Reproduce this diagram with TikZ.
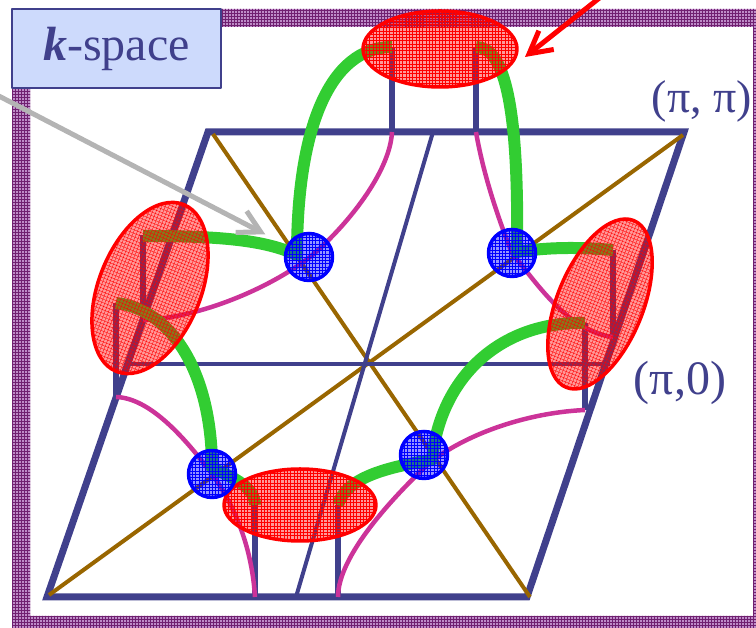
\documentclass[tikz,border=0pt]{standalone}
\usepackage{fontspec}
\setmainfont{Liberation Serif}
\usetikzlibrary{patterns,arrows.meta}
\definecolor{bznavy}{RGB}{64,64,140}
\definecolor{fsgreen}{RGB}{50,205,50}
\definecolor{fspink}{RGB}{204,51,153}
\definecolor{diagbrown}{RGB}{153,102,0}
\definecolor{framepurple}{RGB}{190,140,200}
\definecolor{framegrid}{RGB}{112,32,112}
\definecolor{boxblue}{RGB}{205,218,252}
\definecolor{arrowgray}{RGB}{180,180,180}
\begin{document}
\begin{tikzpicture}[x=1pt,y=1pt,line join=round,
    edge/.style={bznavy,line width=7pt,line join=miter},
    stub/.style={bznavy,line width=6pt},
    fsline/.style={fspink,line width=4.5pt},
    gapline/.style={fsgreen,line width=12pt},
    meshed/.style={path picture={\draw[#1,line width=0.35pt,step=3.3]
      ([shift={(-110,-110)}]path picture bounding box.center) grid
      ([shift={(110,110)}]path picture bounding box.center);}},
    hotspot/.style={draw=red,line width=3.5pt,fill=red,fill opacity=0.4,
      meshed=red},
    dirac/.style={circle,draw=blue,line width=3.5pt,fill=blue,fill opacity=0.42,
      minimum size=47pt,inner sep=0pt,meshed=blue},
    pointer/.style={line width=5pt,-{Straight Barb[length=22pt,width=24pt]}}]
  \useasboundingbox (0,0) rectangle (756,628);
  \clip (0,0) rectangle (756,628);
  % slide frame
  \fill[framepurple,even odd rule,
    postaction={pattern=grid,pattern color=framegrid,even odd rule}]
    (12,-12) rectangle (775,619) (30,12) rectangle (753,601);
  % zone
  \draw[edge] (47,31) -- (527,31) -- (684,496) -- (208,496) -- cycle;
  \draw[diagbrown,line width=4pt] (49,33) -- (683,493);
  \draw[diagbrown,line width=4pt] (213,494) -- (530,31);
  \draw[bznavy,line width=4pt] (127,264) -- (610,264);
  \draw[bznavy,line width=4pt] (296,31) -- (433,496);
  \foreach \x/\ya/\yb in {392/496/581,476/496/581,255/31/123,338/31/123,
      143/308/393,116/231/325,613/291/378,585/218/305}
    \draw[stub] (\x,\ya) -- (\x,\yb);
  % Fermi surface
  \draw[fsline] (392,496) .. controls (390,455) and (345,400) .. (310,371)
    .. controls (270,340) and (200,310) .. (143,308);
  \draw[fsline] (476,496) .. controls (484,450) and (500,405) .. (512,375)
    .. controls (540,340) and (570,296) .. (613,291);
  \draw[fsline] (116,231) .. controls (150,230) and (185,190) .. (212,154)
    .. controls (235,122) and (252,80) .. (255,31);
  \draw[fsline] (338,31) .. controls (338,73) and (395,132) .. (424,160)
    .. controls (455,189) and (520,215) .. (585,218);
  % gap
  \draw[gapline] (392,581) .. controls (330,581) and (297,500) .. (297,373)
    .. controls (265,388) and (220,392) .. (143,392);
  \draw[gapline] (476,581) .. controls (505,581) and (519,520) .. (517,376)
    .. controls (555,382) and (590,380) .. (613,378);
  \draw[gapline] (116,325) .. controls (175,318) and (212,250) .. (212,160)
    .. controls (235,150) and (255,140) .. (255,123);
  \draw[gapline] (338,123) .. controls (345,148) and (380,160) .. (432,168)
    .. controls (440,250) and (500,307) .. (585,305);
  % hot spots
  \draw[hotspot] (440,579) ellipse (77 and 38);
  \draw[hotspot] (300,123) ellipse (76 and 36);
  \draw[hotspot,rotate around={68:(150,340)}] (150,340) ellipse (90 and 51);
  \draw[hotspot,rotate around={68:(600,324)}] (600,324) ellipse (90 and 43);
  % nodes
  \node[dirac] (d1) at (309,371) {};
  \node[dirac] (d2) at (512,375) {};
  \node[dirac] (d3) at (212,154) {};
  \node[dirac] (d4) at (424,173) {};
  % labels
  \node[draw=bznavy,line width=1.5pt,fill=boxblue,minimum width=209pt,
    minimum height=79pt,inner sep=0pt,text=bznavy,
    font=\fontsize{48}{50}\selectfont] (kspace) at (116.5,579.5)
    {\textbf{\textit{k}}-space};
  \node[text=bznavy,font=\fontsize{46}{50}\selectfont] (pipi) at (702,527) {(π, π)};
  \node[text=bznavy,font=\fontsize{48}{50}\selectfont] (pizero) at (680,245) {(π,0)};
  % pointers
  \coordinate (grayfrom) at (-5,534);
  \coordinate (redfrom) at (612,640);
  \coordinate (redto) at (525,571);
  \draw[pointer,arrowgray,shorten >=24pt] (grayfrom) -- (d1);
  \draw[pointer,red] (redfrom) -- (redto);
\end{tikzpicture}
\end{document}
